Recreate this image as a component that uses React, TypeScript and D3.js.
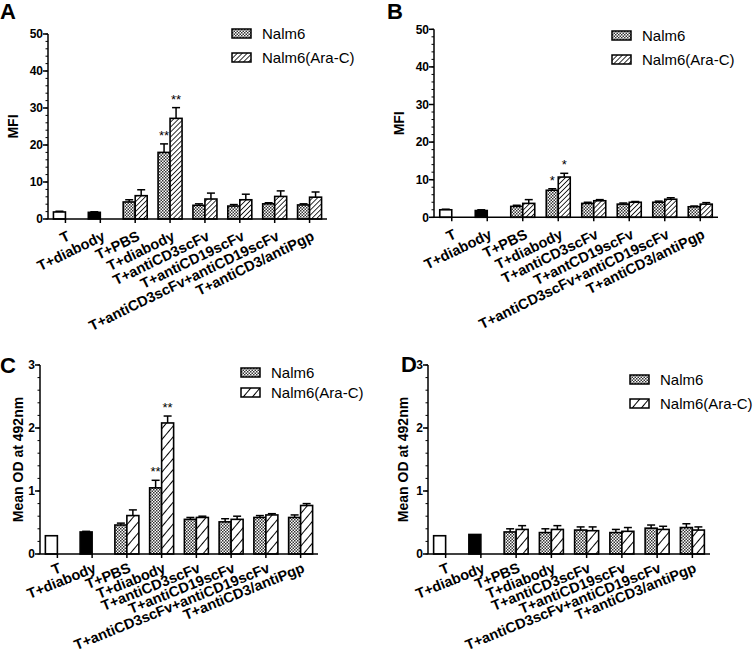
import React from "react";
import * as d3 from "d3";

const categories = ["T", "T+diabody", "T+PBS", "T+diabody", "T+antiCD3scFv", "T+antiCD19scFv", "T+antiCD3scFv+antiCD19scFv", "T+antiCD3/antiPgp"];
const categoriesB = ["T", "T+diabody", "T+PBS", "T+diabody", "T+antiCD3scFv", "T+antCD19scFv", "T+antiCD3scFv+antiCD19scFv", "T+antiCD3/antiPgp"];
const seriesNames = ["Nalm6", "Nalm6(Ara-C)"];

const aNalm6 = [1.9, 1.8, 4.6, 18.0, 3.7, 3.5, 4.1, 3.8];
const aNalm6Err = [0.2, 0.15, 0.6, 2.3, 0.4, 0.4, 0.3, 0.3];
const aAraC = [null, null, 6.3, 27.2, 5.4, 5.2, 6.1, 5.9];
const aAraCErr = [0, 0, 1.6, 2.9, 1.6, 1.5, 1.5, 1.4];
const aStars = ["", "", "", "**", "", "", "", ""];

const bNalm6 = [2.0, 1.8, 2.9, 7.2, 3.7, 3.5, 4.0, 2.8];
const bNalm6Err = [0.15, 0.2, 0.3, 0.4, 0.3, 0.3, 0.3, 0.2];
const bAraC = [null, null, 3.7, 10.7, 4.4, 4.0, 4.8, 3.5];
const bAraCErr = [0, 0, 1.0, 1.0, 0.3, 0.2, 0.4, 0.4];
const bStars = ["", "", "", "*", "", "", "", ""];

const cNalm6 = [0.29, 0.35, 0.46, 1.05, 0.55, 0.51, 0.58, 0.58];
const cNalm6Err = [0, 0.01, 0.03, 0.12, 0.03, 0.05, 0.03, 0.04];
const cAraC = [null, null, 0.61, 2.08, 0.58, 0.55, 0.62, 0.77];
const cAraCErr = [0, 0, 0.09, 0.11, 0.02, 0.05, 0.02, 0.03];
const cStars = ["", "", "", "**", "", "", "", ""];

const dNalm6 = [0.29, 0.31, 0.35, 0.34, 0.38, 0.34, 0.41, 0.42];
const dNalm6Err = [0, 0, 0.05, 0.06, 0.05, 0.05, 0.05, 0.06];
const dAraC = [null, null, 0.39, 0.39, 0.37, 0.36, 0.39, 0.38];
const dAraCErr = [0, 0, 0.06, 0.06, 0.06, 0.06, 0.05, 0.05];
const dStars = ["", "", "", "", "", "", "", ""];

const yTicksMFI = [0, 10, 20, 30, 40, 50];
const yTicksOD = [0, 1, 2, 3];

const FONT = "'Liberation Sans', Arial, Helvetica, sans-serif";

type PanelProps = {
  letter: string;
  letterX: number; letterY: number;
  x0: number; x1: number; yBase: number; yTopPx: number;
  yMax: number; yTicks: number[]; minorStep: number;
  yLabel: string; yLabelX: number;
  labels: string[]; labelSize: number; labelAngle: number; labelDy: number;
  n6: (number | null)[]; n6e: number[]; ac: (number | null)[]; ace: number[];
  stars: string[];
  araPattern: string;
  legendX: number; legendY: number; legendGap: number;
};

function Panel(p: PanelProps) {
  const y = d3.scaleLinear().domain([0, p.yMax]).range([p.yBase, p.yTopPx]);
  const x = d3.scalePoint<number>().domain(d3.range(p.labels.length)).range([p.x0, p.x1]).padding(0.5);
  const bw = 12;
  const minor = d3.range(0, p.yMax + 1e-9, p.minorStep);
  const cap = 4;
  const els: any[] = [];
  p.labels.forEach((_, i) => {
    const cx = x(i)!;
    const v1 = p.n6[i];
    if (v1 != null) {
      const fill = i === 0 ? "#fff" : i === 1 ? "#000" : "url(#checker)";
      const bx = cx - bw;
      els.push(<rect key={"a" + i} x={bx} y={y(v1)} width={bw} height={p.yBase - y(v1)} fill={fill} stroke="#000" strokeWidth={1.6} />);
      const e = p.n6e[i];
      if (e > 0) {
        els.push(<line key={"ae" + i} x1={bx + bw / 2} x2={bx + bw / 2} y1={y(v1)} y2={y(v1 + e)} stroke="#000" strokeWidth={1.5} />);
        els.push(<line key={"ac" + i} x1={bx + bw / 2 - cap} x2={bx + bw / 2 + cap} y1={y(v1 + e)} y2={y(v1 + e)} stroke="#000" strokeWidth={1.5} />);
      }
      if (p.stars[i]) {
        els.push(<text key={"as" + i} x={bx + bw / 2} y={y(v1 + e) - 4} textAnchor="middle" fontSize={13} fontFamily={FONT}>{p.stars[i]}</text>);
      }
    }
    const v2 = p.ac[i];
    if (v2 != null) {
      const bx = cx;
      els.push(<rect key={"b" + i} x={bx} y={y(v2)} width={bw} height={p.yBase - y(v2)} fill={`url(#${p.araPattern})`} stroke="#000" strokeWidth={1.6} />);
      const e = p.ace[i];
      if (e > 0) {
        els.push(<line key={"be" + i} x1={bx + bw / 2} x2={bx + bw / 2} y1={y(v2)} y2={y(v2 + e)} stroke="#000" strokeWidth={1.5} />);
        els.push(<line key={"bc" + i} x1={bx + bw / 2 - cap} x2={bx + bw / 2 + cap} y1={y(v2 + e)} y2={y(v2 + e)} stroke="#000" strokeWidth={1.5} />);
      }
      if (p.stars[i]) {
        els.push(<text key={"bs" + i} x={bx + bw / 2} y={y(v2 + e) - 4} textAnchor="middle" fontSize={13} fontFamily={FONT}>{p.stars[i]}</text>);
      }
    }
  });
  const midY = (p.yBase + p.yTopPx) / 2;
  return (
    <g fontFamily={FONT}>
      <text x={p.letterX} y={p.letterY} fontSize={22} fontWeight="bold">{p.letter}</text>
      {els}
      <line x1={p.x0} x2={p.x0} y1={p.yBase} y2={p.yTopPx} stroke="#000" strokeWidth={1.5} />
      <line x1={p.x0} x2={p.x1} y1={p.yBase} y2={p.yBase} stroke="#000" strokeWidth={1.5} />
      {minor.map((t, i) => (
        <line key={"m" + i} x1={p.x0 - 2.5} x2={p.x0} y1={y(t)} y2={y(t)} stroke="#000" strokeWidth={1} />
      ))}
      {p.yTicks.map((t) => (
        <g key={"t" + t}>
          <line x1={p.x0 - 5} x2={p.x0} y1={y(t)} y2={y(t)} stroke="#000" strokeWidth={1.5} />
          <text x={p.x0 - 5} y={y(t)} dy="0.35em" textAnchor="end" fontSize={12} fontWeight="bold">{t}</text>
        </g>
      ))}
      {p.labels.map((l, i) => (
        <g key={"x" + i}>
          <line x1={x(i)!} x2={x(i)!} y1={p.yBase} y2={p.yBase + 4} stroke="#000" strokeWidth={1.5} />
          <text transform={`translate(${x(i)! + 1},${p.yBase + p.labelDy}) rotate(${p.labelAngle})`} textAnchor="end" dy="0.72em" fontSize={p.labelSize} fontWeight="bold">{l}</text>
        </g>
      ))}
      <text transform={`translate(${p.yLabelX},${midY}) rotate(-90)`} textAnchor="middle" fontSize={14} fontWeight="bold">{p.yLabel}</text>
      {seriesNames.map((s, i) => (
        <g key={"l" + i} transform={`translate(${p.legendX},${p.legendY + i * p.legendGap})`}>
          <rect x={0} y={0} width={19} height={9} fill={i === 0 ? "url(#checker)" : `url(#${p.araPattern})`} stroke="#000" strokeWidth={1.5} />
          <text x={30} y={5} dy="0.35em" fontSize={15}>{s}</text>
        </g>
      ))}
    </g>
  );
}

export default function App() {
  return (
    <svg width={755} height={655} style={{ position: "absolute", left: 0, top: 0, background: "#fff" }}>
      <defs>
        <pattern id="checker" patternUnits="userSpaceOnUse" width={3} height={3}>
          <rect width={3} height={3} fill="#fff" />
          <rect x={0} y={0} width={1.5} height={1.5} fill="#333" />
          <rect x={1.5} y={1.5} width={1.5} height={1.5} fill="#333" />
        </pattern>
        <pattern id="hatchDense" patternUnits="userSpaceOnUse" width={3.5} height={3.5} patternTransform="rotate(45)">
          <rect width={3.5} height={3.5} fill="#fff" />
          <line x1={0} y1={0} x2={0} y2={3.5} stroke="#000" strokeWidth={1.6} />
        </pattern>
        <pattern id="hatchSparse" patternUnits="userSpaceOnUse" width={7} height={7} patternTransform="rotate(40)">
          <rect width={7} height={7} fill="#fff" />
          <line x1={0} y1={0} x2={0} y2={7} stroke="#000" strokeWidth={2} />
        </pattern>
      </defs>
      <rect width={755} height={655} fill="#fff" />
      <Panel letter="A" letterX={0} letterY={19} x0={48} x1={327} yBase={219} yTopPx={34} yMax={50} yTicks={yTicksMFI} minorStep={2}
        yLabel="MFI" yLabelX={18} labels={categories} labelSize={14.5} labelAngle={-26} labelDy={11} n6={aNalm6} n6e={aNalm6Err} ac={aAraC} ace={aAraCErr} stars={aStars}
        araPattern="hatchDense" legendX={232} legendY={29} legendGap={24} />
      <Panel letter="B" letterX={387} letterY={19} x0={434} x1={718} yBase={217.3} yTopPx={29.3} yMax={50} yTicks={yTicksMFI} minorStep={2}
        yLabel="MFI" yLabelX={404} labels={categoriesB} labelSize={14.5} labelAngle={-26} labelDy={11} n6={bNalm6} n6e={bNalm6Err} ac={bAraC} ace={bAraCErr} stars={bStars}
        araPattern="hatchDense" legendX={612} legendY={31} legendGap={24} />
      <Panel letter="C" letterX={0} letterY={373} x0={40} x1={318} yBase={554} yTopPx={365} yMax={3} yTicks={yTicksOD} minorStep={0.2}
        yLabel="Mean OD at 492nm" yLabelX={23} labels={categories} labelSize={14.5} labelAngle={-22} labelDy={8} n6={cNalm6} n6e={cNalm6Err} ac={cAraC} ace={cAraCErr} stars={cStars}
        araPattern="hatchSparse" legendX={241} legendY={368} legendGap={20} />
      <Panel letter="D" letterX={401} letterY={372} x0={428} x1={710} yBase={554} yTopPx={365} yMax={3} yTicks={yTicksOD} minorStep={0.2}
        yLabel="Mean OD at 492nm" yLabelX={408} labels={categories} labelSize={14.5} labelAngle={-22} labelDy={8} n6={dNalm6} n6e={dNalm6Err} ac={dAraC} ace={dAraCErr} stars={dStars}
        araPattern="hatchSparse" legendX={630} legendY={375} legendGap={24} />
    </svg>
  );
}
